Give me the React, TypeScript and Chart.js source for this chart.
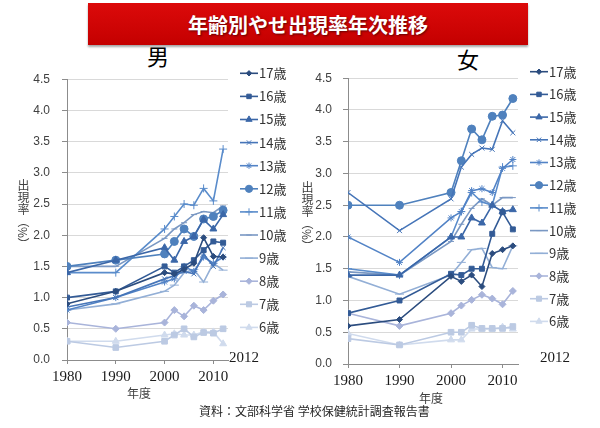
import React, { useEffect, useRef } from 'react';
import { Chart, registerables } from 'chart.js';
import { drawPoint } from 'chart.js/helpers';

Chart.register(...registerables);

// ---- data ----
const years = [1980, 1990, 2000, 2002, 2004, 2006, 2008, 2010, 2012];
const ageLabels = ['17歳', '16歳', '15歳', '14歳', '13歳', '12歳', '11歳', '10歳', '9歳', '8歳', '7歳', '6歳'];
const xTickLabels = [1980, 1990, 2000, 2010];
const yTickMax = 4.5;

// 男
const m17 = [0.9, 1.1, 1.4, 1.38, 1.45, 1.55, 1.96, 1.66, 1.65];
const m16 = [1.0, 1.1, 1.5, 1.4, 1.5, 1.6, 1.76, 1.9, 1.88];
const m15 = [1.4, 1.6, 1.8, 1.6, 1.9, 1.98, 2.25, 2.1, 2.33];
const m14 = [0.85, 1.0, 1.3, 1.35, 1.42, 1.38, 1.7, 1.5, 1.8];
const m13 = [0.8, 1.0, 1.25, 1.3, 1.5, 1.42, 1.65, 1.55, 1.65];
const m12 = [1.5, 1.6, 1.7, 1.9, 2.1, 1.98, 2.26, 2.3, 2.4];
const m11 = [1.4, 1.4, 2.1, 2.3, 2.5, 2.48, 2.75, 2.55, 3.38];
const m10 = [1.5, 1.5, 1.95, 2.1, 2.2, 2.33, 2.38, 2.36, 2.47];
const m9 = [0.8, 0.9, 1.1, 1.2, 1.4, 1.45, 1.25, 1.55, 1.44];
const m8 = [0.6, 0.5, 0.6, 0.8, 0.7, 0.87, 0.8, 0.95, 1.05];
const m7 = [0.3, 0.2, 0.3, 0.4, 0.5, 0.37, 0.44, 0.43, 0.5];
const m6 = [0.3, 0.3, 0.4, 0.42, 0.4, 0.4, 0.45, 0.45, 0.26];

// 女
const f17 = [0.6, 0.7, 1.38, 1.3, 1.4, 1.22, 1.74, 1.8, 1.86];
const f16 = [0.8, 1.0, 1.42, 1.4, 1.5, 1.5, 2.05, 2.39, 2.12];
const f15 = [1.4, 1.4, 2.0, 2.0, 2.3, 2.22, 2.5, 2.4, 2.43];
const f14 = [2.7, 2.1, 2.6, 3.1, 3.3, 3.4, 3.38, 3.83, 3.64];
const f13 = [2.0, 1.6, 2.3, 2.4, 2.73, 2.76, 2.7, 3.08, 3.22];
const f12 = [2.5, 2.5, 2.7, 3.2, 3.7, 3.53, 3.9, 3.92, 4.18];
const f11 = [1.5, 1.4, 2.0, 2.4, 2.7, 2.55, 2.5, 3.1, 3.12];
const f10 = [1.45, 1.4, 1.93, 2.2, 2.45, 2.6, 2.5, 2.62, 2.62];
const f9 = [1.38, 1.1, 1.4, 1.6, 1.8, 1.82, 1.52, 1.5, 1.86];
const f8 = [0.8, 0.6, 0.8, 0.92, 1.01, 1.09, 1.03, 0.94, 1.15];
const f7 = [0.4, 0.3, 0.5, 0.5, 0.61, 0.56, 0.56, 0.56, 0.59];
const f6 = [0.48, 0.3, 0.38, 0.38, 0.55, 0.55, 0.55, 0.58, 0.55];

const maleSeries = [m17, m16, m15, m14, m13, m12, m11, m10, m9, m8, m7, m6];
const femaleSeries = [f17, f16, f15, f14, f13, f12, f11, f10, f9, f8, f7, f6];

// ---- styles ----
const colors = [
  '#2b4c7e', '#335b96', '#3b67a8', '#4675b8', '#5283c6', '#4f81bd',
  '#5a8ccb', '#7a98c3', '#93afd6', '#a9b4da', '#bccae3', '#d0dbed',
];
const pointStyles = ['rectRot', 'rect', 'triangle', 'crossRot', 'star', 'circle', 'cross', 'line', 'line', 'rectRot', 'rect', 'triangle'];
const pointRadii = [3, 3.5, 4, 3.5, 3.5, 4, 4, 3, 4.5, 3.5, 4, 4];

const sideLegend = {
  id: 'sideLegend',
  afterDraw(chart: any, _args: any, opts: any) {
    const ctx = chart.ctx;
    ctx.save();
    chart.data.datasets.forEach((ds: any, i: number) => {
      const y = opts.y0 + i * opts.dy;
      ctx.strokeStyle = ds.borderColor;
      ctx.lineWidth = 1.6;
      ctx.beginPath();
      ctx.moveTo(opts.x0, y);
      ctx.lineTo(opts.x0 + opts.len, y);
      ctx.stroke();
      ctx.fillStyle = ds.backgroundColor;
      ctx.strokeStyle = ds.borderColor;
      ctx.lineWidth = 1;
      drawPoint(ctx, { pointStyle: ds.pointStyle, radius: ds.pointRadius * 0.9, rotation: 0, borderWidth: 1 }, opts.x0 + opts.len / 2, y);
      ctx.fillStyle = '#333333';
      ctx.font = '13px "Noto Sans CJK JP"';
      ctx.textBaseline = 'middle';
      ctx.textAlign = 'left';
      ctx.fillText(ds.label, opts.x0 + opts.len + 1, y);
    });
    ctx.restore();
  },
};

function buildConfig(series: number[][], g: any) {
  return {
    type: 'line' as const,
    data: {
      datasets: series.map((vals, i) => ({
        label: ageLabels[i],
        data: years.map((yr, j) => ({ x: yr, y: vals[j] })),
        borderColor: colors[i],
        backgroundColor: colors[i],
        borderWidth: 1.6,
        pointStyle: pointStyles[i],
        pointRadius: pointRadii[i],
        pointBorderWidth: 1,
        pointBorderColor: colors[i],
        pointBackgroundColor: colors[i],
        tension: 0,
      })),
    },
    options: {
      animation: false,
      responsive: false,
      maintainAspectRatio: false,
      events: [],
      layout: { padding: { left: 0, top: g.padTop, right: g.padRight, bottom: 0 } },
      scales: {
        x: {
          type: 'linear',
          min: 1980,
          max: 2013,
          afterBuildTicks: (scale: any) => {
            scale.ticks = xTickLabels.map((v) => ({ value: v }));
          },
          afterFit: (scale: any) => {
            scale.height = g.xHeight;
          },
          ticks: {
            padding: 4,
            maxRotation: 0,
            autoSkip: false,
            font: { family: '"Liberation Serif", "Times New Roman", serif', size: 15 },
            color: '#1a1a1a',
            callback: (v: any) => String(v),
          },
          grid: { drawOnChartArea: false, drawTicks: true, tickLength: 4, tickColor: '#8c8c8c' },
          border: { display: true, color: '#8c8c8c', width: 1 },
        },
        y: {
          min: 0,
          max: yTickMax,
          afterFit: (scale: any) => {
            scale.width = g.yWidth;
          },
          ticks: {
            stepSize: 0.5,
            padding: g.yPad,
            font: { family: '"Liberation Sans", Arial, sans-serif', size: 12 },
            color: '#404040',
            callback: (v: any) => Number(v).toFixed(1),
          },
          grid: { color: '#d9d9d9', lineWidth: 1, drawTicks: true, tickLength: 5, tickColor: '#8c8c8c' },
          border: { display: true, color: '#8c8c8c', width: 1 },
        },
      },
      plugins: {
        legend: { display: false },
        tooltip: { enabled: false },
        title: { display: false },
        sideLegend: { x0: g.legX, y0: g.legY, dy: g.legDy, len: g.legLen },
      },
    },
    plugins: [sideLegend],
  };
}

function ChartPanel(props: { series: number[][]; geom: any; left: number; top: number; width: number; height: number }) {
  const ref = useRef<HTMLCanvasElement | null>(null);
  useEffect(() => {
    if (!ref.current) return;
    const chart = new Chart(ref.current, buildConfig(props.series, props.geom) as any);
    return () => chart.destroy();
  }, []);
  return (
    <canvas
      ref={ref}
      width={props.width}
      height={props.height}
      style={{ position: 'absolute', left: props.left, top: props.top, width: props.width, height: props.height }}
    />
  );
}

const maleGeom = { padTop: 13, padRight: 72, yWidth: 67, yPad: 12, xHeight: 40, legX: 240, legY: 13.3, legDy: 23.1, legLen: 18 };
const femaleGeom = { padTop: 14, padRight: 82, yWidth: 48, yPad: 11, xHeight: 36, legX: 230, legY: 11.7, legDy: 22.7, legLen: 18 };

const jp = '"Noto Sans CJK JP", sans-serif';

export default function App() {
  const abs = (o: any) => ({ position: 'absolute' as const, whiteSpace: 'nowrap' as const, ...o });
  return (
    <div style={{ position: 'fixed', left: 0, top: 0, width: 600, height: 428, background: '#ffffff', overflow: 'hidden' }}>
      <div
        style={abs({
          left: 88, top: 3, width: 440, height: 42,
          background: 'linear-gradient(#dc0a0a, #c40000)',
          boxShadow: '0 2px 2px rgba(0,0,0,0.35)',
          color: '#ffffff', fontFamily: jp, fontWeight: 700, fontSize: 20,
          display: 'flex', alignItems: 'center', justifyContent: 'center',
          textShadow: '1px 1px 2px rgba(0,0,0,0.5)',
        })}
      >
        年齢別やせ出現率年次推移
      </div>
      <div style={abs({ left: 147, top: 42, fontFamily: jp, fontSize: 22, lineHeight: '26px', color: '#000' })}>男</div>
      <div style={abs({ left: 457, top: 45, fontFamily: jp, fontSize: 22, lineHeight: '26px', color: '#000' })}>女</div>

      <ChartPanel series={maleSeries} geom={maleGeom} left={0} top={60} width={300} height={340} />
      <ChartPanel series={femaleSeries} geom={femaleGeom} left={300} top={60} width={300} height={340} />

      <div style={abs({ left: 16, top: 179, writingMode: 'vertical-rl', fontFamily: jp, fontSize: 12, lineHeight: '14px', color: '#404040' })}>出現率（%）</div>
      <div style={abs({ left: 300, top: 181, writingMode: 'vertical-rl', fontFamily: jp, fontSize: 12, lineHeight: '14px', color: '#404040' })}>出現率（%）</div>

      <div style={abs({ left: 127, top: 386, fontFamily: jp, fontSize: 12, lineHeight: '14px', color: '#404040' })}>年度</div>
      <div style={abs({ left: 419, top: 391, fontFamily: jp, fontSize: 12, lineHeight: '14px', color: '#404040' })}>年度</div>

      <div style={abs({ left: 229, top: 348, fontFamily: '"Liberation Serif", serif', fontSize: 15, lineHeight: '18px', color: '#1a1a1a' })}>2012</div>
      <div style={abs({ left: 540, top: 348, fontFamily: '"Liberation Serif", serif', fontSize: 15, lineHeight: '18px', color: '#1a1a1a' })}>2012</div>

      <div style={abs({ left: 199, top: 403, fontFamily: jp, fontSize: 12, lineHeight: '16px', color: '#262626' })}>資料：文部科学省 学校保健統計調査報告書</div>
    </div>
  );
}
